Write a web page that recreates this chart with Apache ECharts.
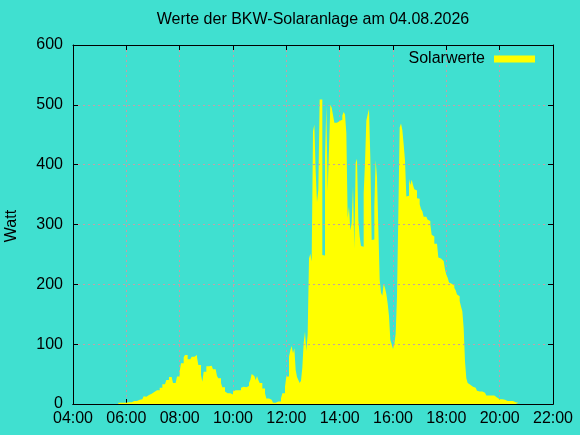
<!DOCTYPE html>
<html>
<head>
<meta charset="utf-8">
<script src="https://cdn.jsdelivr.net/npm/echarts@6/dist/echarts.min.js"></script>
<style>
html,body{margin:0;padding:0;background:#40e0d0;}
#chart{width:580px;height:435px;}
</style>
</head>
<body>
<div id="chart"></div>
<script>
const chartTitle = 'Werte der BKW-Solaranlage am 04.08.2026';
const seriesName = 'Solarwerte';
const yAxisTitle = 'Watt';
const xTickLabels = ['04:00','06:00','08:00','10:00','12:00','14:00','16:00','18:00','20:00','22:00'];
const firstSampleTime = '05:42';
const sampleStepMinutes = 3;
const watts = [
  2,2,2,2,2,2,2,3,3,3,
  5,5,5,5,7,7,7,8,8,13,
  12,12,15,15,17,17,20,20,23,23,
  23,27,27,33,33,36,40,40,45,45,
  42,35,35,37,46,46,54,68,68,78,
  82,82,75,75,72,79,79,82,82,78,
  65,65,49,37,54,54,63,63,63,64,
  64,58,58,58,47,43,43,35,28,28,
  21,18,18,18,16,16,21,23,23,23,
  23,23,27,29,29,28,30,30,35,40,
  50,47,47,40,47,40,35,35,26,26,
  18,9,9,7,7,7,2,2,2,4,
  4,4,9,18,18,29,46,46,79,90,
  97,85,93,57,45,40,35,39,61,102,
  121,88,116,243,251,238,456,467,389,337,
  358,509,509,249,248,414,499,355,426,500,
  495,483,470,470,473,473,470,475,482,488,
  484,453,311,330,290,302,364,259,403,410,
  308,280,264,263,352,403,474,484,493,411,
  274,275,330,408,379,294,208,186,181,201,
  194,184,168,147,107,100,92,100,117,180,
  318,462,469,458,434,407,347,348,376,366,
  375,366,359,357,344,343,334,326,322,313,
  313,316,308,306,300,283,280,268,268,268,
  245,243,240,239,236,225,216,211,203,201,
  198,198,194,190,183,180,172,163,155,127,
  71,43,35,32,34,29,27,27,25,22,
  21,21,21,19,19,17,14,14,14,14,
  14,14,12,11,11,8,8,8,8,7,
  7,5,5,5,5,5,5,3,1,2,
  2
];

function toMinutes(hhmm){ const p = hhmm.split(':'); return (+p[0])*60 + (+p[1]); }
const t0 = toMinutes(firstSampleTime);
const seriesData = watts.map((w, i) => [t0 + i * sampleStepMinutes, w]);

const FONT = "'Liberation Sans', Arial, sans-serif";
const gridLine = { show: true, showMinLine: false, showMaxLine: false, lineStyle: { color: '#c4a0a8', width: 1, type: [2, 3] } };
const blackLine = { show: true, onZero: false, lineStyle: { color: '#000', width: 1 } };
const innerTick = { show: true, inside: true, length: 5, lineStyle: { color: '#000' } };

const chart = echarts.init(document.getElementById('chart'), null, { renderer: 'canvas' });
chart.setOption({
  backgroundColor: '#40e0d0',
  animation: false,
  textStyle: { fontFamily: FONT },
  grid: { left: 73, right: 27, top: 45, bottom: 31, show: false },
  legend: {
    data: [seriesName],
    right: 40, top: 46,
    align: 'right',
    icon: 'rect',
    itemWidth: 41, itemHeight: 7,
    textStyle: { fontFamily: FONT, fontSize: 16, color: '#000', padding: [0, 4, 0, 0] }
  },
  graphic: [
    { type: 'text', x: 313, y: 20, style: { text: chartTitle, font: '16px ' + FONT, fill: '#000', textAlign: 'center', textVerticalAlign: 'middle' } },
    { type: 'text', x: 12, y: 226, rotation: Math.PI / 2, style: { text: yAxisTitle, font: '16px ' + FONT, fill: '#000', textAlign: 'center', textVerticalAlign: 'middle' } }
  ],
  xAxis: [
    {
      type: 'value', position: 'bottom', min: 240, max: 1320, interval: 120, z: 0,
      axisLine: blackLine,
      axisTick: innerTick,
      axisLabel: { margin: 7, fontSize: 16, color: '#000', fontFamily: FONT, formatter: v => xTickLabels[Math.round((v - 240) / 120)] },
      splitLine: gridLine
    },
    {
      type: 'value', position: 'top', min: 240, max: 1320, interval: 120, z: 5,
      axisLine: blackLine,
      axisTick: innerTick,
      axisLabel: { show: false }, splitLine: { show: false }
    },
    {
      type: 'value', position: 'bottom', min: 240, max: 1320, z: 10,
      axisLine: blackLine,
      axisTick: { show: false }, axisLabel: { show: false }, splitLine: { show: false }
    }
  ],
  yAxis: [
    {
      type: 'value', position: 'left', min: 0, max: 600, interval: 100, z: 5,
      axisLine: blackLine,
      axisTick: innerTick,
      axisLabel: { margin: 10, fontSize: 16, color: '#000', fontFamily: FONT },
      splitLine: gridLine
    },
    {
      type: 'value', position: 'right', min: 0, max: 600, interval: 100, z: 5,
      axisLine: blackLine,
      axisTick: innerTick,
      axisLabel: { show: false }, splitLine: { show: false }
    }
  ],
  series: [{
    name: seriesName,
    type: 'line',
    xAxisIndex: 0, yAxisIndex: 0,
    step: 'end',
    data: seriesData,
    showSymbol: false, symbol: 'none',
    color: '#ffff00',
    lineStyle: { width: 0, opacity: 0 },
    areaStyle: { color: '#ffff00', opacity: 1 },
    z: 2
  }]
});
</script>
</body>
</html>
